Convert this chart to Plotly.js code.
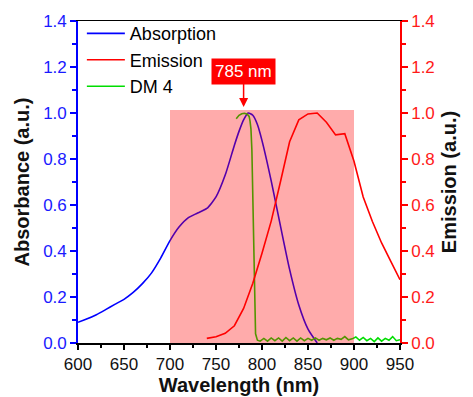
<!DOCTYPE html>
<html>
<head>
<meta charset="utf-8">
<script src="https://cdn.plot.ly/plotly-3.0.1.min.js"></script>
<style>html,body{margin:0;padding:0;background:#fff;}#chart{width:473px;height:397px;}</style>
</head>
<body>
<div id="chart"></div>
<script>
// Absorption (left axis)
const absX = [600,610,620,630,640,650,660,670,680,690,700,710,720,730,740,750,760,770,775,780,785,790,795,800,810,820,830,840,850,860];
const absY = [0.09,0.105,0.123,0.145,0.168,0.19,0.22,0.258,0.305,0.37,0.445,0.505,0.545,0.565,0.585,0.635,0.73,0.86,0.92,0.97,1.0,0.99,0.95,0.88,0.705,0.51,0.32,0.165,0.06,0.0];
// Emission (right axis)
const emX = [740,750,760,770,780,790,800,810,820,830,840,850,860,870,880,890,900,910,920,930,940,950];
const emY = [0.02,0.027,0.042,0.075,0.15,0.26,0.39,0.53,0.70,0.875,0.97,0.996,1.0,0.96,0.905,0.91,0.79,0.635,0.528,0.435,0.355,0.275];
// DM 4 filter (left axis)
const dmX = [772,775,778,781,784,786,787,788,789,790,791,792,793,795,798,802,806,810,814,818,822,826,830,834,838,842,846,850,854,858,862,866,870,874,878,882,886,890,894,898,902,906,910,914,918,922,926,930,934,938,942,946,950];
const dmY = [0.975,0.99,0.997,0.999,0.995,0.985,0.965,0.93,0.84,0.62,0.35,0.12,0.04,0.012,0.008,0.02,0.008,0.022,0.01,0.022,0.008,0.024,0.01,0.022,0.008,0.022,0.01,0.02,0.012,0.022,0.012,0.02,0.014,0.022,0.012,0.02,0.016,0.028,0.014,0.018,0.026,0.012,0.024,0.01,0.02,0.006,0.022,0.008,0.02,0.012,0.028,0.01,0.014];
const yTicks = [0,0.2,0.4,0.6,0.8,1.0,1.2,1.4];
const yTickText = ["0.0","0.2","0.4","0.6","0.8","1.0","1.2","1.4"];
const xTicks = [600,650,700,750,800,850,900,950];

const FONT = "Liberation Sans, Arial, sans-serif";
const traces = [
  {x: absX, y: absY, name: "Absorption", type: "scatter", mode: "lines", line: {color: "#0000ff", width: 1.6, shape: "spline", smoothing: 0.6}, yaxis: "y"},
  {x: emX, y: emY, name: "Emission", type: "scatter", mode: "lines", line: {color: "#ff0000", width: 1.6}, yaxis: "y2"},
  {x: dmX, y: dmY, name: "DM 4", type: "scatter", mode: "lines", line: {color: "#00dd00", width: 1.6}, yaxis: "y"}
];
const layout = {
  width: 473, height: 397,
  margin: {l: 78, r: 73, t: 21, b: 54},
  paper_bgcolor: "#fff", plot_bgcolor: "#fff",
  font: {family: FONT, color: "#000"},
  showlegend: true,
  legend: {x: 0.012, y: 1.018, xanchor: "left", yanchor: "top", bgcolor: "rgba(0,0,0,0)", font: {size: 18, family: FONT, color: "#000"}, tracegroupgap: 0, itemwidth: 38},
  xaxis: {
    range: [600, 950], tickvals: xTicks, ticktext: xTicks.map(String),
    showgrid: false, zeroline: false, showline: true, linecolor: "#000", linewidth: 1.5, mirror: true,
    ticks: "outside", ticklen: 5, tickwidth: 1.2, tickcolor: "#000",
    minor: {dtick: 25, tick0: 600, ticks: "outside", ticklen: 3, tickcolor: "#000", showgrid: false},
    tickfont: {size: 17, color: "#111"},
    title: {text: "<b>Wavelength (nm)</b>", font: {size: 20, color: "#111"}, standoff: 5}
  },
  yaxis: {
    range: [0, 1.4], tickvals: yTicks, ticktext: yTickText,
    showgrid: false, zeroline: false, showline: true, linecolor: "#0000ff", linewidth: 1.8,
    ticks: "outside", ticklen: 6, tickwidth: 1.2, tickcolor: "#0000ff",
    minor: {dtick: 0.1, tick0: 0, ticks: "outside", ticklen: 4, tickcolor: "#0000ff", showgrid: false},
    tickfont: {size: 17, color: "#1a1aff"},
    title: {text: "<b>Absorbance (a.u.)</b>", font: {size: 20, color: "#111"}, standoff: 8}
  },
  yaxis2: {
    range: [0, 1.4], tickvals: yTicks, ticktext: yTickText, overlaying: "y", side: "right",
    showgrid: false, zeroline: false, showline: true, linecolor: "#ff0000", linewidth: 1.8,
    ticks: "outside", ticklen: 6, tickwidth: 1.2, tickcolor: "#ff0000",
    minor: {dtick: 0.1, tick0: 0, ticks: "outside", ticklen: 4, tickcolor: "#ff0000", showgrid: false},
    tickfont: {size: 17, color: "#ff1a1a"},
    title: {text: "<b>Emission (a.u.)</b>", font: {size: 20, color: "#111"}, standoff: 8}
  },
  shapes: [
    {type: "rect", xref: "x", yref: "y", x0: 700, x1: 900, y0: 0, y1: 1.013, fillcolor: "#ff0000", opacity: 0.33, line: {width: 0}, layer: "above"}
  ],
  annotations: [
    {x: 780, y: 1.026, xref: "x", yref: "y", text: "785 nm", showarrow: true, arrowhead: 2, arrowsize: 1.2, arrowwidth: 1.5, arrowcolor: "#ff0000",
     ax: 0, ay: -36, bgcolor: "#ff0000", borderpad: 3, font: {size: 17, color: "#fff", family: FONT}}
  ]
};
Plotly.newPlot("chart", traces, layout, {staticPlot: true, displayModeBar: false});
</script>
</body>
</html>
